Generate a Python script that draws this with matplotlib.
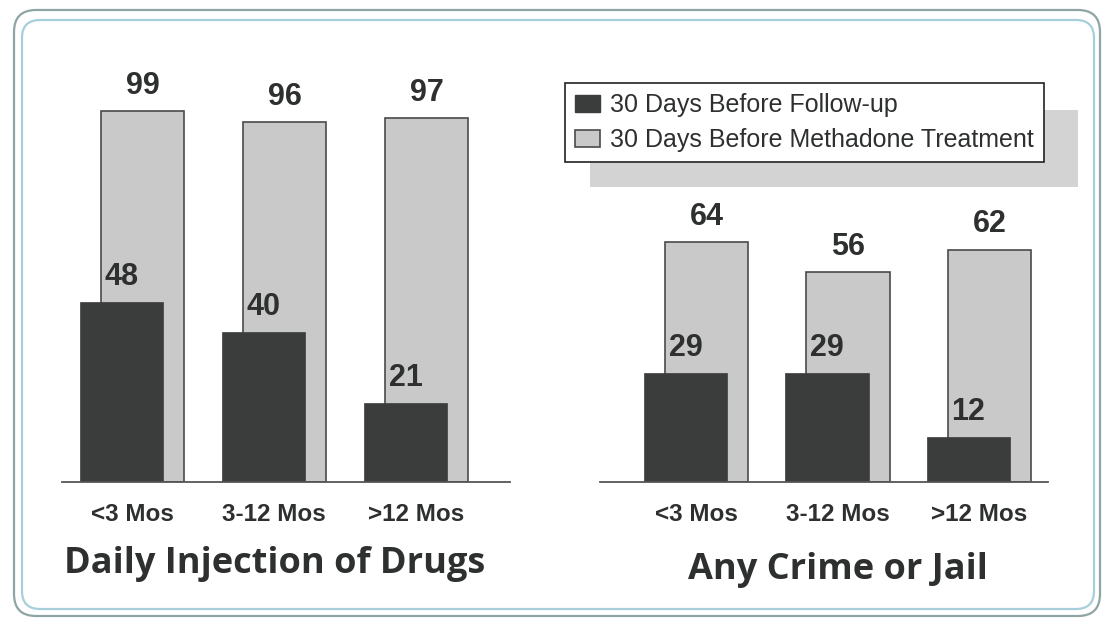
import numpy as np
import matplotlib
matplotlib.use('Agg')
import matplotlib.pyplot as plt
from matplotlib.patches import FancyBboxPatch, Rectangle, Patch

categories = ['<3 Mos', '3-12 Mos', '>12 Mos']
groups = ['Daily Injection of Drugs', 'Any Crime or Jail']
drug_followup = [48, 40, 21]
drug_before = [99, 96, 97]
crime_followup = [29, 29, 12]
crime_before = [64, 56, 62]
series_names = ['30 Days Before Follow-up', '30 Days Before Methadone Treatment']

W, H = 1106, 622
DARK = '#3b3d3d'
LIGHT = '#c9c9c9'
TXT = '#2e3030'

fig = plt.figure(figsize=(W / 100, H / 100), dpi=100)
fig.patch.set_facecolor('white')


def px_axes(x0, x1, ytop, ybot):
    return fig.add_axes([x0 / W, 1 - ybot / H, (x1 - x0) / W, (ybot - ytop) / H])


# frame: double rounded border
inch = fig.dpi_scale_trans
outer = FancyBboxPatch((14 / 100, (H - 616) / 100), (1100 - 14) / 100, (616 - 10) / 100,
                       boxstyle='round,pad=0,rounding_size=0.22', transform=inch,
                       fill=False, ec='#8fa4a4', lw=1.6, zorder=-2)
inner = FancyBboxPatch((22 / 100, (H - 609) / 100), (1094 - 22) / 100, (609 - 20) / 100,
                       boxstyle='round,pad=0,rounding_size=0.18', transform=inch,
                       fill=False, ec='#a6cfdb', lw=1.6, zorder=-2)
fig.patches.extend([outer, inner])

# grey shadow behind legend
shadow = Rectangle((590 / W, 1 - 187 / H), (1078 - 590) / W, (187 - 110) / H,
                   transform=fig.transFigure, fc='#d3d3d3', ec='none', zorder=-1)
fig.patches.append(shadow)

x = np.arange(len(categories))
bw = 0.59
off = 0.074
ppu = 3.75  # pixels per percent

panels = [
    (62, 510, -0.493, 2.662, drug_followup, drug_before, 275, 564),
    (600, 1048, -0.678, 2.488, crime_followup, crime_before, 838, 570),
]

axes = []
for (x0, x1, xl, xr, follow, before, tx, ty), title in zip(panels, groups):
    ax = px_axes(x0, x1, 482 - 120 * ppu, 482)
    ax.set_facecolor('none')
    ax.bar(x + off, before, bw, color=LIGHT, edgecolor='#4a4a4a', linewidth=1.2, zorder=1)
    ax.bar(x - off, follow, bw, color=DARK, edgecolor=DARK, linewidth=0.5, zorder=2)
    for xi, v in zip(x, before):
        ax.annotate(str(v), (xi + off, v), xytext=(0, 18), textcoords='offset points',
                    ha='center', va='center', fontsize=22, fontweight='bold',
                    color=TXT, family='Liberation Sans', annotation_clip=False)
    for xi, v in zip(x, follow):
        ax.annotate(str(v), (xi - off, v), xytext=(0, 18), textcoords='offset points',
                    ha='center', va='center', fontsize=22, fontweight='bold',
                    color=TXT, family='Liberation Sans', zorder=3,
                    annotation_clip=False)
    ax.set_xlim(xl, xr)
    ax.set_ylim(0, 120)
    ax.set_yticks([])
    ax.set_xticks(x, categories, fontsize=17.5, fontweight='bold', color=TXT,
                  family='Liberation Sans')
    ax.tick_params(axis='x', length=0, pad=15)
    for s in ['top', 'right', 'left']:
        ax.spines[s].set_visible(False)
    ax.spines['bottom'].set_color('#555555')
    ax.spines['bottom'].set_linewidth(1.3)
    fig.text(tx / W, 1 - ty / H, title, ha='center', va='center', fontsize=26,
             fontweight='bold', color=TXT, family='Open Sans')
    axes.append(ax)

handles = [Patch(fc=DARK, ec=DARK), Patch(fc=LIGHT, ec='#4a4a4a', lw=1.2)]
leg = fig.legend(handles, series_names, loc='upper left',
                 bbox_to_anchor=(565 / W, 1 - 83 / H), borderaxespad=0,
                 prop={'family': 'Liberation Sans', 'size': 18},
                 fancybox=False, framealpha=1, edgecolor='#222222',
                 handlelength=1.0, handleheight=0.7, handletextpad=0.4,
                 labelspacing=0.45, borderpad=0.4)
leg.get_frame().set_linewidth(1.2)
for t in leg.get_texts():
    t.set_color(TXT)

fig.savefig('out.png', dpi=100)
